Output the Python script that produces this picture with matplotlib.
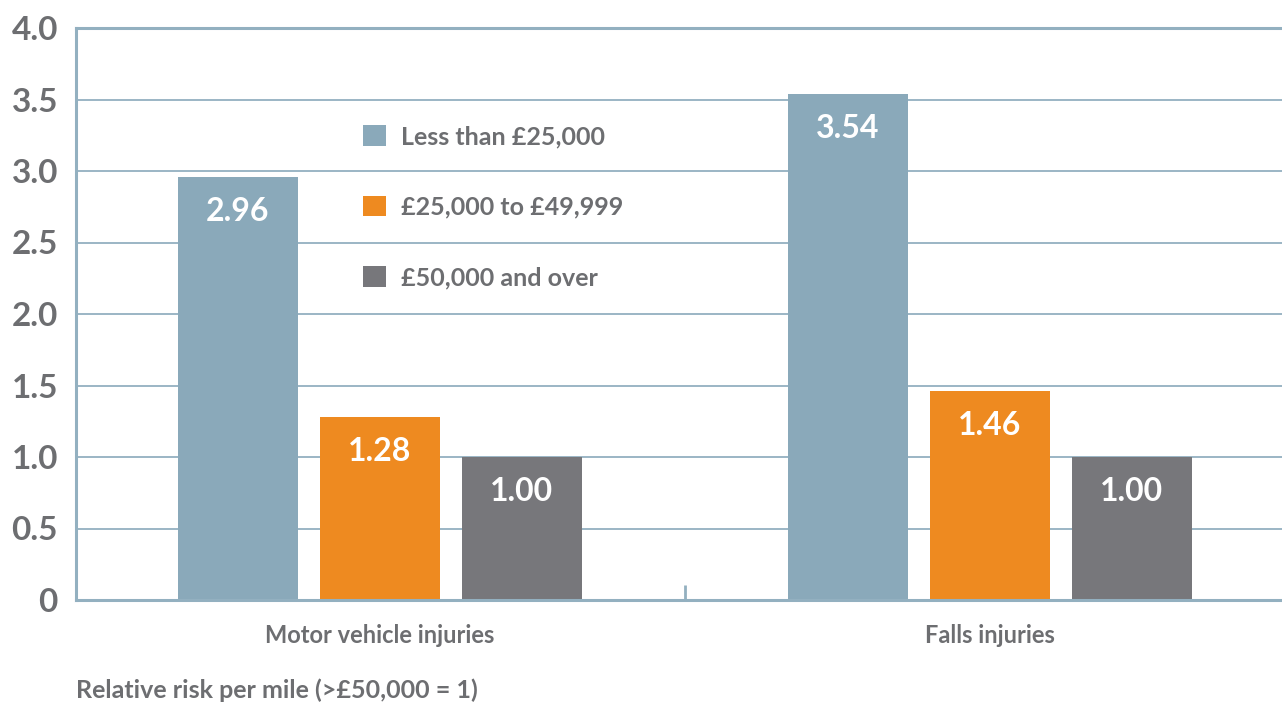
import matplotlib
matplotlib.use("Agg")
import matplotlib.pyplot as plt
from matplotlib.patches import Patch
import numpy as np

categories = ["Motor vehicle injuries", "Falls injuries"]
series_names = ["Less than £25,000", "£25,000 to £49,999", "£50,000 and over"]
values_low = [2.96, 3.54]
values_mid = [1.28, 1.46]
values_high = [1.00, 1.00]
y_ticks = [0, 0.5, 1.0, 1.5, 2.0, 2.5, 3.0, 3.5, 4.0]
y_tick_labels = ["0", "0.5", "1.0", "1.5", "2.0", "2.5", "3.0", "3.5", "4.0"]
x_note = "Relative risk per mile (>£50,000 = 1)"

colors = ["#8aa9ba", "#ee8a20", "#77777b"]
grid_c = "#93b0c0"
text_c = "#6d6e71"
FONT = ["Lato", "DejaVu Sans"]
plt.rcParams["font.family"] = FONT

fig = plt.figure(figsize=(12.82, 7.02), dpi=100)
ax = fig.add_axes([76/1282, 1-600/702, 1-76/1282, (600-28)/702])

x = np.arange(len(categories))
offset = 142/610
width = 120/610
all_vals = [values_low, values_mid, values_high]
for i, (vals, c) in enumerate(zip(all_vals, colors)):
    bars = ax.bar(x + (i-1)*offset, vals, width=width, color=c, zorder=3)
    for b, v in zip(bars, vals):
        ax.annotate(f"{v:.2f}", (b.get_x()+b.get_width()/2, v), xytext=(0, -25),
                    textcoords="offset points", ha="center", va="center",
                    color="white", fontsize=23, fontweight="bold", zorder=4)

ax.set_xlim(-0.498, 1.479)
ax.set_ylim(0, 4.0)
ax.set_yticks(y_ticks)
ax.set_yticklabels(y_tick_labels, fontsize=24, fontweight="bold", color=text_c)
ax.tick_params(axis="y", length=0, pad=13)
ax.yaxis.grid(True, color=grid_c, linewidth=1.3, zorder=0)
ax.set_axisbelow(True)

ax.set_xticks(x)
ax.set_xticklabels(categories, fontsize=17, fontweight="bold", color=text_c)
ax.tick_params(axis="x", which="major", length=0, pad=17)
ax.set_xticks([0.5], minor=True)
ax.tick_params(axis="x", which="minor", direction="in", length=11, width=2, color=grid_c)

for s in ["top", "right"]:
    ax.spines[s].set_visible(False)
for s in ["left", "bottom"]:
    ax.spines[s].set_color(grid_c)
    ax.spines[s].set_linewidth(2.2)
    ax.spines[s].set_zorder(5)
ax.axhline(4.0, color=grid_c, linewidth=2.2, zorder=1, clip_on=False)

handles = [Patch(facecolor=c, edgecolor="none") for c in colors]
leg = ax.legend(handles, series_names, loc="upper left",
                bbox_to_anchor=((367-76)/1206 - 0.003, (600-125)/572),
                frameon=False, fontsize=18, handlelength=0.9, handleheight=0.9,
                handletextpad=0.6, labelspacing=1.9, borderaxespad=0, borderpad=0)
for t in leg.get_texts():
    t.set_color(text_c)
    t.set_fontweight("bold")

fig.text(76/1282, 1-690/702, x_note, ha="left", va="center", fontsize=18,
         fontweight="bold", color=text_c)

fig.savefig("out.png", dpi=100)
